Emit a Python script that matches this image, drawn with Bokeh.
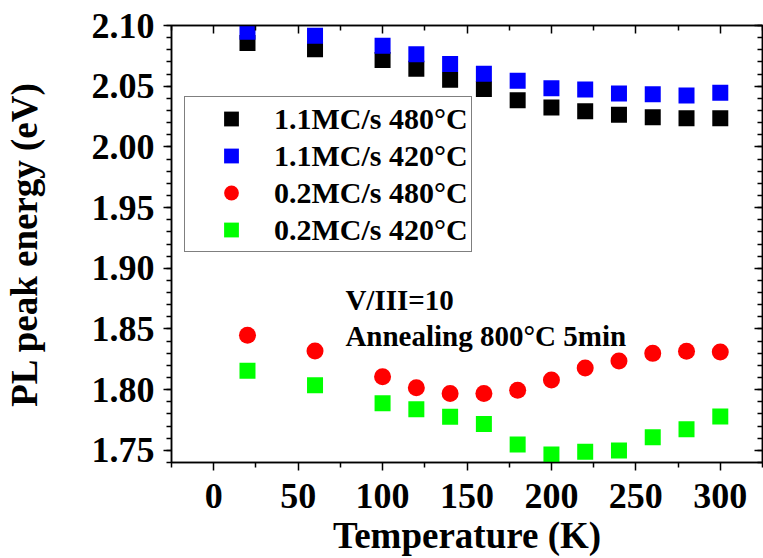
from bokeh.plotting import figure
from bokeh.models import (Range1d, LinearAxis, FixedTicker, CustomJSTickFormatter,
                          PrintfTickFormatter, Legend, LegendItem, Label)
from bokeh.embed import file_html
from bokeh.resources import INLINE

# ---- data ----
temperature = [20, 60, 100, 120, 140, 160, 180, 200, 220, 240, 260, 280, 300]
mc11_480 = [2.0855, 2.0805, 2.0715, 2.0643, 2.0553, 2.0476, 2.0384, 2.0325,
            2.0294, 2.0264, 2.0244, 2.0235, 2.0235]
mc11_420 = [2.0948, 2.0915, 2.0833, 2.0763, 2.0683, 2.0602, 2.0545, 2.0484,
            2.0473, 2.0439, 2.0434, 2.0424, 2.0445]
mc02_480 = [1.8448, 1.8318, 1.8106, 1.8016, 1.7969, 1.7969, 1.7996, 1.8079,
            1.8178, 1.8236, 1.8299, 1.8316, 1.8310]
mc02_420 = [1.8156, 1.8036, 1.7889, 1.7839, 1.7777, 1.7717, 1.7549, 1.7465,
            1.7488, 1.7499, 1.7607, 1.7674, 1.7779]
series_names = ["1.1MC/s 480°C", "1.1MC/s 420°C", "0.2MC/s 480°C", "0.2MC/s 420°C"]
x_ticks = [0, 50, 100, 150, 200, 250, 300]
x_minor = [-25, 25, 75, 125, 175, 225, 275, 325]
y_ticks = [1.75, 1.80, 1.85, 1.90, 1.95, 2.00, 2.05, 2.10]
y_minor = [round(1.74 + 0.01 * i, 2) for i in range(37)]
notes = ["V/III=10", "Annealing 800°C 5min"]
x_title = "Temperature (K)"
y_title = "PL peak energy (eV)"

FONT = "Liberation Serif"

p = figure(width=763, height=558,
           x_range=Range1d(-25, 325), y_range=Range1d(1.74, 2.10),
           output_backend="svg", toolbar_location=None,
           min_border_left=170, min_border_right=1,
           min_border_top=25, min_border_bottom=96,
           x_axis_label=x_title, y_axis_label=y_title)
p.grid.visible = False
p.outline_line_color = "black"
p.outline_line_width = 1.5
p.background_fill_color = "white"
p.border_fill_color = "white"

xt = FixedTicker(ticks=x_ticks, minor_ticks=x_minor)
yt = FixedTicker(ticks=y_ticks, minor_ticks=y_minor)
p.xaxis.ticker = xt
p.yaxis.ticker = yt
p.yaxis.formatter = PrintfTickFormatter(format="%.2f")

for ax in p.xaxis + p.yaxis:
    ax.axis_line_width = 1.5
    ax.major_tick_line_width = 1.5
    ax.minor_tick_line_width = 1.5
    ax.major_tick_out = 8
    ax.major_tick_in = 0
    ax.minor_tick_out = 5
    ax.minor_tick_in = 0
    ax.major_label_text_font = FONT
    ax.major_label_text_font_style = "bold"
    ax.major_label_text_font_size = "36px"
    ax.major_label_text_color = "black"
    ax.axis_label_text_font = FONT
    ax.axis_label_text_font_style = "bold"
    ax.axis_label_text_font_size = "37px"
    ax.axis_label_text_color = "black"
p.xaxis.major_label_standoff = 13
p.xaxis.axis_label_standoff = 4
p.yaxis.major_label_standoff = 9
p.yaxis.axis_label_standoff = 44

blank = CustomJSTickFormatter(code="return ''")
for side, tk in (("above", xt), ("right", yt)):
    ax = LinearAxis(ticker=tk, formatter=blank,
                    major_tick_in=8, major_tick_out=0,
                    minor_tick_in=5, minor_tick_out=0,
                    major_label_standoff=0,
                    major_label_text_font_size="1px",
                    axis_line_width=1.5, major_tick_line_width=1.5,
                    minor_tick_line_width=1.5)
    p.add_layout(ax, side)

r1 = p.scatter(temperature, mc11_480, marker="square", size=16,
               fill_color="black", line_color=None)
r2 = p.scatter(temperature, mc11_420, marker="square", size=16,
               fill_color="#0000FF", line_color=None)
r3 = p.scatter(temperature, mc02_480, marker="circle", size=17,
               fill_color="#FF0000", line_color=None)
r4 = p.scatter(temperature, mc02_420, marker="square", size=16,
               fill_color="#00FF00", line_color=None)

legend = Legend(items=[LegendItem(label=n, renderers=[r])
                       for n, r in zip(series_names, [r1, r2, r3, r4])],
                location=(13, 210), padding=3, spacing=0, margin=0,
                glyph_width=86, glyph_height=37, label_standoff=0,
                label_text_font=FONT, label_text_font_style="bold",
                label_text_font_size="30px", label_text_color="black",
                border_line_color="black", border_line_width=1.5,
                background_fill_color="white", background_fill_alpha=1)
p.add_layout(legend)

for txt, yv in zip(notes, [1.8735, 1.8445]):
    p.add_layout(Label(x=78, y=yv, text=txt, text_baseline="alphabetic",
                       text_font=FONT, text_font_style="bold",
                       text_font_size="29px", text_color="black"))

open("out.html", "w").write(file_html(p, INLINE))
